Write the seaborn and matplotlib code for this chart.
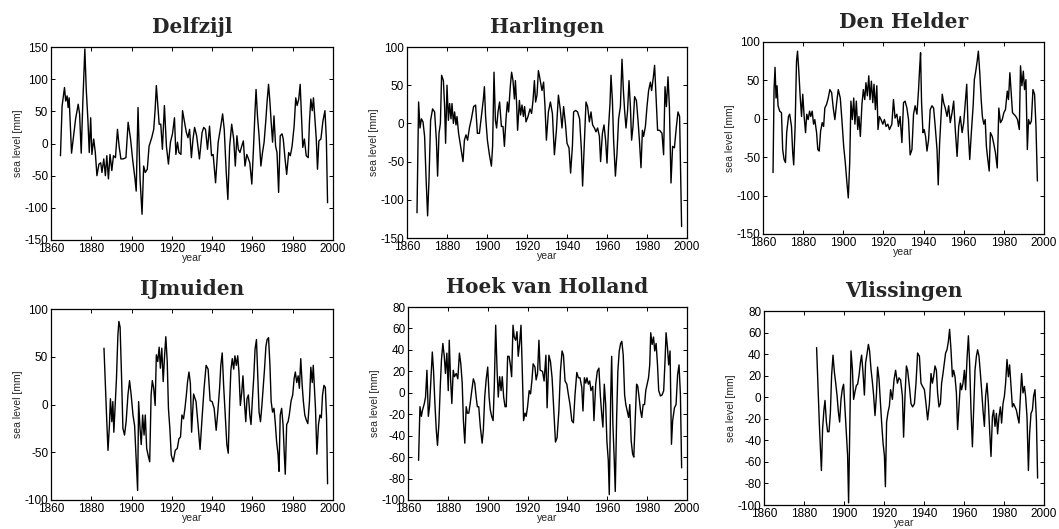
import matplotlib
matplotlib.use("Agg")
import matplotlib.pyplot as plt
import pandas as pd
import seaborn as sns

##################################################################################
# annual mean sea level anomalies [mm]
##################################################################################
delfzijl_year = [1864.7, 1865.5, 1866.7, 1867.3, 1868.0, 1868.5, 1869.0, 1870.2, 1872.2, 1873.5,
                 1874.2, 1875.0, 1875.8, 1876.8, 1877.5, 1878.3, 1879.0, 1879.7, 1880.3, 1881.2,
                 1882.0, 1882.8, 1883.8, 1884.7, 1885.3, 1886.2, 1887.0, 1887.7, 1888.5, 1889.3,
                 1890.2, 1891.0, 1892.0, 1893.0, 1893.8, 1894.7, 1895.8, 1897.2, 1898.3, 1899.5,
                 1900.5, 1901.7, 1902.3, 1903.2, 1904.2, 1905.2, 1906.0, 1906.8, 1907.8, 1908.7,
                 1910.0, 1911.0, 1911.7, 1912.3, 1913.0, 1913.7, 1914.5, 1915.3, 1916.3, 1917.3,
                 1918.3, 1919.3, 1920.3, 1921.3, 1922.0, 1922.8, 1923.5, 1924.5, 1925.3, 1926.3,
                 1927.2, 1928.0, 1928.8, 1929.7, 1930.5, 1931.3, 1932.3, 1933.7, 1935.0, 1935.8,
                 1936.7, 1937.7, 1938.7, 1939.7, 1940.5, 1941.7, 1943.0, 1944.2, 1945.2, 1946.0,
                 1947.0, 1947.8, 1948.7, 1949.7, 1950.7, 1951.5, 1952.3, 1953.0, 1953.8, 1954.7,
                 1955.5, 1956.3, 1957.2, 1957.8, 1958.7, 1959.7, 1960.5, 1961.3, 1961.8, 1962.5,
                 1963.3, 1964.2, 1965.0, 1965.8, 1966.7, 1967.3, 1968.0, 1968.7, 1969.3, 1970.0,
                 1970.7, 1971.5, 1972.2, 1973.0, 1973.8, 1974.7, 1975.3, 1976.2, 1977.0, 1978.0,
                 1978.8, 1979.7, 1980.7, 1981.5, 1982.2, 1983.0, 1983.7, 1984.3, 1985.0, 1985.8,
                 1986.7, 1987.7, 1988.3, 1989.0, 1989.7, 1990.3, 1991.0, 1991.7, 1992.3, 1993.0,
                 1994.0, 1995.0, 1996.0, 1996.7, 1997.3]
delfzijl_mm = [-19, 58, 87, 66, 74, 56, 71, -15, 38, 61,
               46, -15, 64, 147, 84, 38, -14, 40, -17, 7,
               -14, -50, -32, -30, -45, -24, -50, -19, -55, -17,
               -42, -19, -22, 22, -4, -24, -24, -22, 33, 7,
               -24, -55, -74, 56, -55, -110, -35, -45, -40, -4,
               9, 22, 53, 90, 59, 30, 30, -9, 59, -4,
               -32, 2, 15, 40, -17, 2, -14, -17, 51, 33,
               17, 9, 22, -22, 7, 25, 12, -24, 17, 25,
               22, -9, 27, -19, -17, -61, 2, 25, 46, 22,
               -45, -87, -4, 30, 7, -35, 12, -9, -14, -4,
               4, -35, -17, -22, -30, -63, -9, 51, 84, 43,
               12, -35, -14, 2, 38, 66, 92, 64, 33, 2,
               43, -4, -14, -76, 12, 15, 7, -24, -48, -14,
               -19, -4, 27, 71, 59, 69, 92, 48, -6, 7,
               -19, -22, 33, 69, 51, 71, 38, 7, -40, 4,
               7, 35, 51, 7, -92]

harlingen_year = [1865.0, 1865.8, 1866.5, 1867.2, 1868.0, 1868.8, 1869.5, 1870.3, 1871.0, 1871.8,
                  1872.8, 1873.8, 1874.7, 1875.3, 1876.0, 1876.7, 1877.3, 1878.2, 1878.8, 1879.3,
                  1880.0, 1880.7, 1881.3, 1882.0, 1882.5, 1883.2, 1883.8, 1884.5, 1885.0, 1885.8,
                  1886.8, 1888.0, 1888.7, 1889.5, 1890.3, 1891.2, 1892.2, 1893.3, 1894.3, 1895.2,
                  1896.2, 1897.2, 1898.2, 1898.7, 1899.3, 1900.2, 1901.2, 1902.2, 1902.8, 1903.5,
                  1904.2, 1904.8, 1905.5, 1906.3, 1907.2, 1908.0, 1908.7, 1909.5, 1910.2, 1910.8,
                  1911.7, 1912.3, 1913.0, 1913.7, 1914.2, 1914.8, 1915.3, 1916.2, 1916.8, 1917.5,
                  1918.2, 1918.8, 1919.5, 1920.5, 1921.5, 1922.3, 1923.0, 1923.7, 1924.3, 1925.0,
                  1925.7, 1926.3, 1927.5, 1928.3, 1929.0, 1929.7, 1930.7, 1931.7, 1932.7, 1933.7,
                  1934.7, 1935.7, 1936.7, 1937.5, 1938.3, 1939.2, 1940.0, 1941.0, 1941.8, 1942.7,
                  1943.3, 1944.3, 1945.3, 1946.3, 1947.2, 1947.8, 1948.7, 1949.5, 1950.3, 1951.2,
                  1952.0, 1952.8, 1953.7, 1954.5, 1955.3, 1956.2, 1956.8, 1957.7, 1958.5, 1959.3,
                  1960.0, 1960.8, 1961.5, 1962.0, 1962.7, 1963.3, 1964.2, 1965.0, 1965.8, 1966.7,
                  1967.5, 1968.2, 1968.8, 1969.5, 1970.3, 1971.0, 1971.7, 1972.3, 1973.0, 1973.8,
                  1974.7, 1975.5, 1976.2, 1977.0, 1977.7, 1978.3, 1979.2, 1980.0, 1980.8, 1981.7,
                  1982.3, 1983.2, 1983.8, 1984.7, 1985.3, 1986.3, 1987.5, 1988.3, 1989.0, 1989.7,
                  1990.5, 1991.2, 1992.0, 1992.8, 1993.7, 1994.7, 1995.5, 1996.3, 1997.3]
harlingen_mm = [-117, 28, -6, 6, 2, -17, -69, -121, -74, 4,
                19, 15, -22, -69, -13, 0, 63, 56, 22, -26,
                50, 4, 26, 6, 26, 0, 15, -2, 9, -13,
                -30, -50, -22, -15, -22, -6, 6, 22, 24, -13,
                -13, 9, 32, 48, 9, -22, -41, -56, -30, 67,
                4, -6, 15, 28, -4, -4, -30, 6, 28, 15,
                50, 67, 56, 32, 56, 26, -9, 30, 11, 24,
                9, 22, 2, 9, 19, 13, 30, 56, 28, 37,
                69, 61, 43, 54, 22, -22, 15, 28, 13, -41,
                -9, 37, 17, -6, 22, 0, -26, -32, -65, -30,
                15, 17, 15, 6, -35, -82, -24, 28, 22, 2,
                15, -2, -6, -11, -6, -17, -50, -13, -2, -22,
                -52, -4, 26, 63, 30, -22, -69, -39, 6, 22,
                84, 43, 17, -6, 17, 56, 22, -22, -4, 35,
                30, 4, -22, -58, -9, -17, -4, 22, 43, 54,
                43, 61, 76, 26, -9, -9, -13, -41, 48, 22,
                61, 22, -78, -30, -32, -4, 15, 9, -135]

den_helder_year = [1865.0, 1865.5, 1866.0, 1866.5, 1867.0, 1867.5, 1868.3, 1869.2, 1869.8, 1870.5,
                   1871.2, 1871.8, 1872.7, 1873.3, 1874.2, 1874.8, 1875.3, 1876.0, 1876.7, 1877.2,
                   1877.8, 1878.5, 1879.2, 1879.8, 1880.5, 1881.2, 1881.8, 1882.5, 1883.2, 1883.8,
                   1884.5, 1885.2, 1885.8, 1886.7, 1887.3, 1888.0, 1888.7, 1889.5, 1890.2, 1890.8,
                   1891.7, 1892.5, 1893.3, 1894.2, 1895.0, 1895.8, 1896.7, 1897.5, 1898.5, 1899.3,
                   1900.2, 1901.0, 1901.8, 1902.5, 1903.2, 1903.8, 1904.5, 1905.2, 1905.8, 1906.5,
                   1907.2, 1907.8, 1908.5, 1909.3, 1910.0, 1910.7, 1911.3, 1912.0, 1912.7, 1913.3,
                   1914.0, 1914.7, 1915.3, 1916.0, 1916.7, 1917.3, 1918.0, 1918.8, 1919.7, 1920.5,
                   1921.3, 1922.2, 1923.0, 1924.2, 1925.0, 1925.8, 1926.7, 1927.5, 1928.3, 1929.2,
                   1930.0, 1930.8, 1931.7, 1932.5, 1933.3, 1934.2, 1935.0, 1935.8, 1936.7, 1937.5,
                   1938.0, 1938.5, 1939.0, 1939.7, 1940.3, 1941.0, 1941.7, 1942.5, 1943.3, 1944.2,
                   1945.0, 1945.8, 1946.7, 1947.3, 1948.0, 1948.7, 1949.3, 1950.0, 1950.8, 1951.7,
                   1952.5, 1953.3, 1954.2, 1955.0, 1955.8, 1956.7, 1957.5, 1958.3, 1959.2, 1960.0,
                   1960.8, 1961.5, 1962.2, 1963.0, 1963.8, 1964.7, 1965.3, 1966.0, 1966.7, 1967.3,
                   1968.0, 1968.7, 1969.3, 1970.0, 1970.7, 1971.3, 1972.0, 1972.7, 1973.3, 1974.2,
                   1975.0, 1975.8, 1976.7, 1977.5, 1978.3, 1979.2, 1980.0, 1980.8, 1981.7, 1982.3,
                   1983.0, 1983.7, 1984.3, 1985.0, 1986.0, 1986.8, 1987.7, 1988.3, 1989.0, 1989.7,
                   1990.3, 1991.0, 1991.7, 1992.3, 1993.0, 1993.7, 1994.5, 1995.3, 1996.0, 1996.7]
den_helder_mm = [-70, 38, 67, 27, 43, 17, 10, 8, -40, -53,
                 -57, -18, 3, 6, -10, -44, -60, -10, 75, 88,
                 64, 30, 3, 32, 3, -18, 6, -1, 10, 3,
                 10, -7, -1, -18, -40, -42, -16, -5, -10, 14,
                 19, 27, 38, 34, 14, -1, 21, 38, 27, -1,
                 -36, -57, -83, -103, -57, 23, -1, 27, -7, 23,
                 -14, 3, -23, 19, 38, 25, 47, 30, 56, 25,
                 49, 21, 45, 12, 43, -14, 3, -1, -7, -1,
                 -10, -7, -14, -7, 25, 1, 6, -10, 3, -31,
                 21, 23, 14, -1, -47, -40, 6, 17, 6, 38,
                 64, 86, 21, -18, -14, -23, -42, -27, 12, 17,
                 14, -10, -40, -86, -31, 3, 32, 21, 14, 3,
                 17, -5, 8, 23, -14, -49, -10, 3, -18, -5,
                 21, 45, -14, -53, -18, 17, 51, 62, 75, 88,
                 60, 25, 3, -7, -1, -36, -53, -68, -18, -23,
                 -33, -44, -64, 14, -5, -1, 8, 12, 36, 25,
                 60, 32, 8, 6, 3, -1, -14, 69, 43, 62,
                 38, 51, -40, -1, -7, -3, 38, 32, -10, -81]

ijmuiden_year = [1886.3, 1887.0, 1887.7, 1888.3, 1889.0, 1889.5, 1890.2, 1890.7, 1891.2, 1891.8,
                 1892.5, 1893.2, 1893.7, 1894.3, 1895.0, 1895.7, 1896.5, 1897.3, 1898.2, 1899.0,
                 1899.8, 1900.7, 1901.5, 1902.2, 1903.0, 1903.5, 1904.2, 1904.8, 1905.5, 1906.2,
                 1906.8, 1907.5, 1908.2, 1909.0, 1909.7, 1910.3, 1911.0, 1911.7, 1912.3, 1913.0,
                 1913.7, 1914.3, 1915.0, 1915.7, 1916.3, 1917.0, 1917.7, 1918.3, 1919.0, 1919.7,
                 1920.7, 1921.7, 1922.7, 1923.5, 1924.3, 1925.0, 1925.8, 1926.5, 1927.2, 1927.8,
                 1928.5, 1929.2, 1929.8, 1930.8, 1932.0, 1933.0, 1934.0, 1935.0, 1936.0, 1937.0,
                 1938.0, 1939.0, 1940.0, 1941.0, 1942.0, 1942.8, 1943.7, 1944.3, 1945.0, 1945.7,
                 1946.5, 1947.3, 1948.0, 1948.7, 1949.3, 1950.0, 1950.7, 1951.3, 1952.0, 1952.7,
                 1953.3, 1954.0, 1954.7, 1955.3, 1956.0, 1956.7, 1957.3, 1958.0, 1958.7, 1959.3,
                 1960.0, 1960.7, 1961.3, 1962.0, 1962.7, 1963.3, 1964.0, 1964.7, 1965.3, 1966.0,
                 1966.7, 1967.3, 1968.0, 1968.7, 1969.3, 1970.0, 1970.7, 1971.3, 1972.0, 1972.7,
                 1973.2, 1973.8, 1974.5, 1975.2, 1975.8, 1976.3, 1977.0, 1977.7, 1978.3, 1979.2,
                 1980.0, 1980.7, 1981.3, 1982.0, 1982.7, 1983.3, 1984.0, 1984.7, 1985.3, 1986.0,
                 1986.7, 1987.5, 1988.3, 1989.0, 1989.7, 1990.2, 1990.7, 1991.3, 1992.0, 1992.8,
                 1993.5, 1994.2, 1994.8, 1995.5, 1996.2, 1996.8, 1997.3]
ijmuiden_mm = [59, 20, -18, -48, -22, 6, -18, 3, -29, -4,
               27, 72, 87, 81, 31, -25, -32, -18, 10, 25,
               10, -11, -22, -53, -90, 3, -25, -42, -11, -32,
               -11, -46, -53, -60, 10, 25, 17, -1, 52, 45,
               60, 38, 59, 24, 48, 71, 45, -4, -25, -53,
               -60, -48, -46, -36, -34, -11, -15, -4, 10, 24,
               34, 22, -29, 11, 3, -21, -47, -14, 17, 41,
               37, 4, 3, -4, -27, -8, 17, 41, 54, 20,
               -11, -42, -51, 3, 36, 48, 37, 51, 41, 51,
               34, -1, 13, 30, 3, -18, 6, 10, -11, -21,
               6, 30, 58, 68, 27, -8, -18, -1, 17, 37,
               61, 68, 70, 41, 3, -8, -4, -18, -39, -52,
               -70, -11, -4, -21, -51, -73, -21, -18, -11, 4,
               10, 27, 34, 23, 30, 17, 48, 20, 3, -11,
               -16, -20, 3, 39, 23, 41, 20, -4, -52, -21,
               -11, -14, 10, 20, 18, -14, -83]

hoek_year = [1865.3, 1866.0, 1866.7, 1867.3, 1868.2, 1868.8, 1869.5, 1870.2, 1870.8, 1871.5,
             1872.2, 1872.8, 1873.5, 1874.2, 1874.8, 1875.5, 1876.2, 1876.8, 1877.5, 1878.2,
             1878.8, 1879.5, 1880.2, 1880.7, 1881.3, 1882.0, 1882.7, 1883.3, 1884.2, 1885.0,
             1885.8, 1886.5, 1887.2, 1887.8, 1888.5, 1889.2, 1889.8, 1890.5, 1891.2, 1892.0,
             1892.8, 1893.5, 1894.2, 1894.8, 1895.5, 1896.3, 1897.2, 1897.8, 1898.5, 1899.2,
             1900.0, 1900.7, 1901.3, 1902.0, 1902.7, 1903.3, 1904.0, 1904.7, 1905.3, 1906.0,
             1906.7, 1907.3, 1908.0, 1908.7, 1909.3, 1910.0, 1910.7, 1911.3, 1912.0, 1912.7,
             1913.3, 1914.0, 1914.7, 1915.3, 1916.0, 1916.7, 1917.3, 1918.0, 1918.7, 1919.3,
             1920.0, 1920.8, 1921.5, 1922.2, 1922.8, 1923.7, 1924.3, 1925.0, 1925.7, 1926.3,
             1927.5, 1928.3, 1929.2, 1929.8, 1930.7, 1931.5, 1932.3, 1933.2, 1934.0, 1934.8,
             1935.7, 1936.5, 1937.3, 1938.0, 1938.8, 1939.7, 1940.5, 1941.3, 1942.2, 1943.0,
             1943.8, 1944.7, 1945.5, 1946.3, 1947.2, 1947.8, 1948.5, 1949.2, 1949.8, 1950.5,
             1951.2, 1951.8, 1952.7, 1953.3, 1954.2, 1955.0, 1955.8, 1956.5, 1957.2, 1957.8,
             1958.5, 1959.2, 1959.8, 1960.5, 1961.0, 1961.7, 1962.2, 1962.8, 1963.5, 1964.0,
             1964.7, 1965.3, 1966.0, 1966.7, 1967.3, 1968.0, 1968.7, 1969.3, 1970.0, 1970.7,
             1971.3, 1972.0, 1972.7, 1973.3, 1974.0, 1974.7, 1975.3, 1976.0, 1976.7, 1977.3,
             1978.0, 1978.7, 1979.3, 1980.0, 1980.7, 1981.3, 1981.8, 1982.5, 1983.2, 1983.8,
             1984.5, 1985.2, 1985.8, 1986.7, 1987.5, 1988.3, 1989.0, 1989.5, 1990.2, 1990.8,
             1991.5, 1992.2, 1992.8, 1993.7, 1994.5, 1995.3, 1996.0, 1996.7, 1997.3]
hoek_mm = [-63, -13, -22, -16, -10, -4, 21, -22, -13, 12,
           38, 21, -10, -35, -49, -29, 6, 31, 46, 34,
           18, 37, 2, 49, 15, -10, 21, 15, 18, 13,
           37, 27, 9, -26, -47, -13, -19, -19, -10, 2,
           13, 9, -4, -13, -13, -32, -47, -35, -4, 12,
           24, -4, -16, -22, -26, 6, 63, 21, -4, 15,
           2, 15, -4, -13, -13, 34, 34, 27, 15, 63,
           52, 49, 57, 34, 46, 63, 24, -26, -19, -22,
           -13, 2, -1, 12, 27, 24, 12, 18, 49, 21,
           20, 11, 35, -14, 35, 29, 14, -17, -46, -42,
           -17, 20, 39, 35, 11, 8, -2, -11, -26, -28,
           -2, 19, 14, 14, 5, -17, 14, 9, 14, 8,
           11, 2, 6, -26, 8, 20, 23, -2, -20, -32,
           8, -11, -45, -63, -95, -5, 34, -29, -63, -92,
           -23, 20, 39, 46, 48, 35, -2, -11, -17, -23,
           -11, -45, -57, -60, -26, 8, 6, -5, -17, -23,
           -11, -11, 2, 8, 14, 26, 56, 45, 52, 39,
           46, 26, 2, -3, -2, 2, 31, 56, 42, 26,
           39, -48, -26, -14, -11, 17, 26, -2, -70]

vlissingen_year = [1886.3, 1887.0, 1887.7, 1888.3, 1888.7, 1889.3, 1890.0, 1890.5, 1891.2, 1891.8,
                   1892.5, 1893.2, 1893.8, 1894.5, 1895.2, 1895.8, 1896.5, 1897.2, 1897.8, 1898.5,
                   1899.2, 1899.8, 1900.5, 1901.2, 1901.8, 1902.3, 1903.5, 1904.2, 1904.8, 1905.5,
                   1906.2, 1906.8, 1907.5, 1908.2, 1908.8, 1909.5, 1910.2, 1910.8, 1911.5, 1912.2,
                   1912.8, 1913.5, 1914.2, 1914.8, 1915.5, 1916.2, 1916.8, 1917.5, 1918.2, 1918.8,
                   1919.5, 1920.2, 1920.7, 1921.3, 1922.0, 1922.7, 1923.3, 1924.2, 1925.0, 1925.8,
                   1926.7, 1927.5, 1928.3, 1929.2, 1929.8, 1930.5, 1931.2, 1931.8, 1932.7, 1933.5,
                   1934.3, 1935.2, 1936.0, 1936.8, 1937.7, 1938.5, 1939.3, 1940.2, 1941.0, 1941.8,
                   1942.7, 1943.5, 1944.2, 1944.8, 1945.5, 1946.2, 1946.8, 1947.5, 1948.2, 1948.8,
                   1949.5, 1950.2, 1950.8, 1951.5, 1952.2, 1952.8, 1953.5, 1954.2, 1954.8, 1955.5,
                   1956.2, 1956.8, 1957.5, 1958.2, 1958.8, 1959.5, 1960.2, 1960.8, 1961.5, 1962.2,
                   1962.8, 1963.5, 1964.2, 1964.8, 1965.5, 1966.2, 1966.8, 1967.5, 1968.2, 1968.8,
                   1969.5, 1970.2, 1970.8, 1971.5, 1972.2, 1972.8, 1973.5, 1974.2, 1974.8, 1975.5,
                   1976.2, 1976.8, 1977.5, 1978.2, 1978.8, 1979.5, 1980.2, 1980.8, 1981.5, 1982.2,
                   1982.8, 1983.5, 1984.2, 1984.8, 1985.5, 1986.2, 1986.8, 1987.5, 1988.2, 1988.8,
                   1989.5, 1990.2, 1990.8, 1991.5, 1992.2, 1992.8, 1993.5, 1994.2, 1994.8, 1995.5,
                   1996.2, 1996.8]
vlissingen_mm = [46, 11, -26, -51, -68, -29, -11, -3, -23, -32,
                 -32, -14, 20, 39, 23, 14, 2, -14, -23, -2,
                 8, 12, -11, -35, -54, -98, 43, 26, -2, 5,
                 11, 12, 20, 32, 39, 23, 2, 32, 40, 49,
                 43, 26, 14, 2, -17, 2, 28, 17, -5, -23,
                 -42, -54, -83, -23, -14, -8, 7, -2, 16, 25,
                 13, 18, 16, 1, -37, 1, 29, 25, 10, -6,
                 -9, -6, 13, 41, 38, 13, 10, 7, -6, -21,
                 -6, 22, 13, 19, 29, 25, 4, -9, -6, 13,
                 22, 32, 41, 44, 52, 63, 44, 19, 25, 19,
                 4, -30, -9, 13, 7, 13, 25, 7, 35, 57,
                 32, -12, -46, -12, 25, 38, 44, 38, 22, 7,
                 -12, -27, 1, 13, -6, -30, -55, -18, -12, -27,
                 -15, -34, -18, -9, -24, -6, 1, 13, 35, 19,
                 30, 10, -9, -6, -9, -12, -18, -24, 1, 22,
                 4, 10, 1, -18, -68, -34, -15, -12, 1, 7,
                 -21, -75]

station_names = ["Delfzijl", "Harlingen", "Den Helder", "IJmuiden", "Hoek van Holland", "Vlissingen"]
station_years = [delfzijl_year, harlingen_year, den_helder_year, ijmuiden_year, hoek_year, vlissingen_year]
station_mm = [delfzijl_mm, harlingen_mm, den_helder_mm, ijmuiden_mm, hoek_mm, vlissingen_mm]
y_limits = [(-150, 150), (-150, 100), (-150, 100), (-100, 100), (-100, 80), (-100, 80)]
y_steps = [50, 50, 50, 50, 20, 20]
x_ticks = [1860, 1880, 1900, 1920, 1940, 1960, 1980, 2000]

##################################################################################
# style and layout (axes boxes in pixels: left, right, top, bottom)
##################################################################################
W, H, DPI = 1059, 529, 100
BOXES = [(51, 333, 47, 240), (407, 687, 47, 238), (763, 1044, 42, 234),
         (51, 333, 309, 500), (408, 687, 307, 500), (764, 1044, 311, 505)]

sns.set_style("ticks")
plt.rcParams.update({
    "font.family": ["Liberation Sans", "DejaVu Sans"],
    "axes.unicode_minus": False,
    "xtick.direction": "in", "ytick.direction": "in",
    "xtick.top": True, "ytick.right": True,
    "xtick.major.size": 3, "ytick.major.size": 3,
    "xtick.major.width": 0.7, "ytick.major.width": 0.7,
    "xtick.major.pad": 2, "ytick.major.pad": 2,
    "xtick.labelsize": 8.5, "ytick.labelsize": 8.5,
    "axes.linewidth": 0.9, "axes.edgecolor": "black",
    "xtick.color": "black", "ytick.color": "black",
})

fig = plt.figure(figsize=(W / DPI, H / DPI), dpi=DPI)

for i, name in enumerate(station_names):
    l, r, t, b = BOXES[i]
    ax = fig.add_axes([l / W, 1 - b / H, (r - l) / W, (b - t) / H])
    df = pd.DataFrame({"year": station_years[i], "sea level": station_mm[i]})
    sns.lineplot(data=df, x="year", y="sea level", ax=ax, color="black",
                 linewidth=1.0, estimator=None, sort=False)
    lo, hi = y_limits[i]
    ax.set_xlim(1860, 2000)
    ax.set_ylim(lo, hi)
    ax.set_xticks(x_ticks)
    ax.set_yticks(range(lo, hi + 1, y_steps[i]))
    ax.set_xlabel("year", fontsize=7.5, labelpad=-1)
    ax.set_ylabel("sea level [mm]", fontsize=7.5, labelpad=1)
    ax.set_title(name, family=["DejaVu Serif"], fontweight="bold", fontsize=14.5, pad=10)

fig.savefig("out.png", dpi=DPI)
